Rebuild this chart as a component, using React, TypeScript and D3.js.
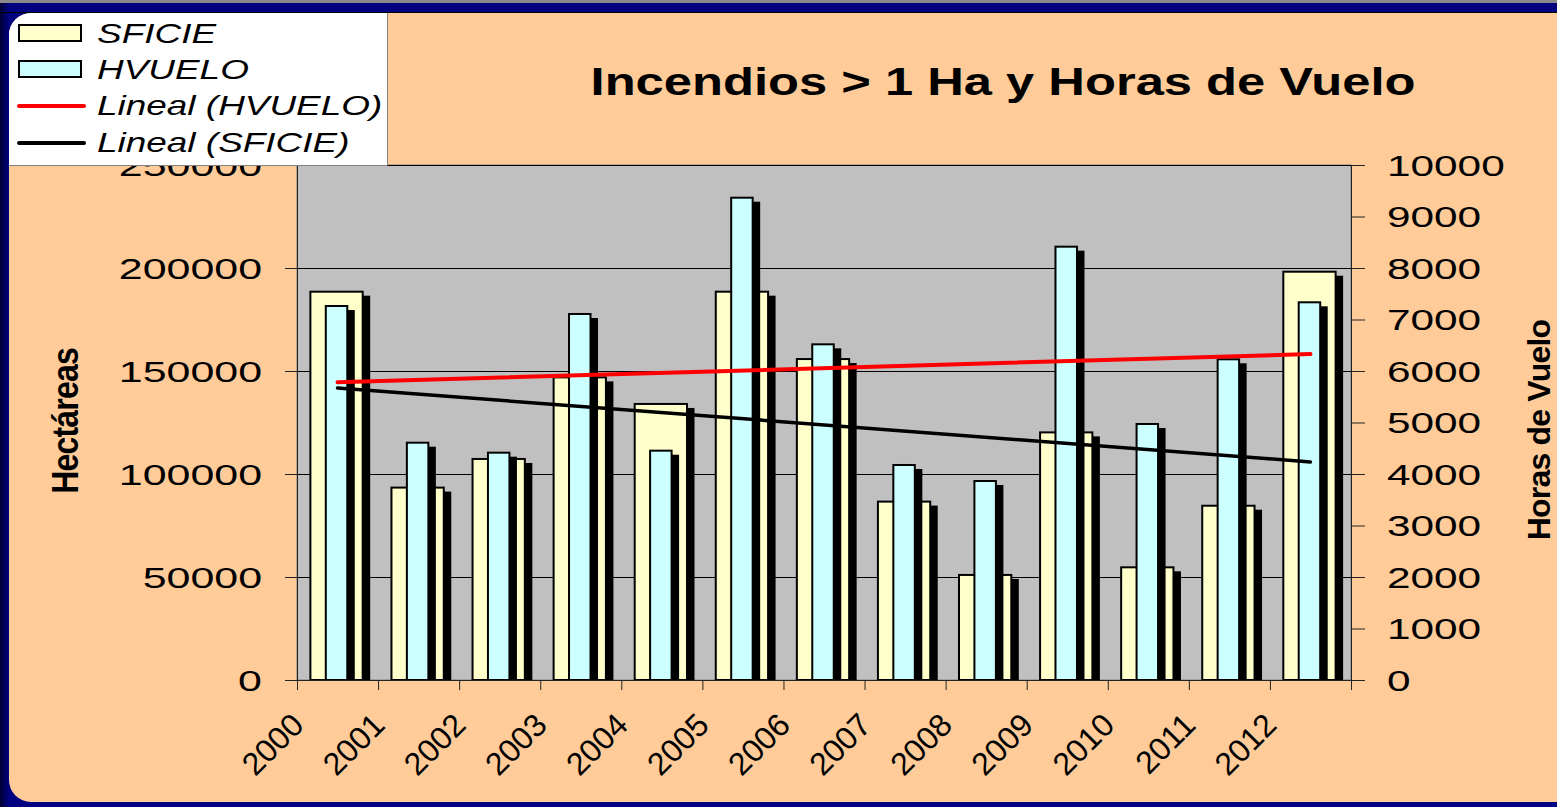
import React, { useEffect, useRef } from 'react';
import * as d3 from 'd3';

const years = ['2000', '2001', '2002', '2003', '2004', '2005', '2006', '2007', '2008', '2009', '2010', '2011', '2012'];
const sficie = [188500, 93400, 107300, 146900, 134000, 188500, 155800, 86600, 51000, 120200, 54700, 84600, 198200];
const hvuelo = [7262, 4608, 4414, 7107, 4453, 9365, 6518, 4175, 3864, 8414, 4971, 6227, 7334];
const leftTicks = [0, 50000, 100000, 150000, 200000, 250000];
const rightTicks = [0, 1000, 2000, 3000, 4000, 5000, 6000, 7000, 8000, 9000, 10000];
const legendLabels = ['SFICIE', 'HVUELO', 'Lineal (HVUELO)', 'Lineal (SFICIE)'];

const W = 1557;
const H = 807;
const FONT = 'Arial, "Liberation Sans", sans-serif';

// least squares fit over the category index
const linReg = (vals: number[]) => {
  const n = vals.length;
  const mx = (n - 1) / 2;
  const my = d3.mean(vals) as number;
  let sxy = 0, sxx = 0;
  vals.forEach((v, i) => { sxy += (i - mx) * (v - my); sxx += (i - mx) * (i - mx); });
  const b = sxy / sxx;
  return (i: number) => my + b * (i - mx);
};

const App: React.FC = () => {
  const svgRef = useRef<SVGSVGElement>(null);

  useEffect(() => {
    if (!svgRef.current) return;
    const svg = d3.select(svgRef.current);
    svg.selectAll('*').remove();

    const plot = { left: 297, right: 1351, top: 165, bottom: 680 };

    const x = d3.scaleBand<string>().domain(years).range([plot.left, plot.right]);
    const xi = d3.scaleLinear().domain([0, years.length]).range([plot.left, plot.right]);
    const yL = d3.scaleLinear().domain([0, 250000]).range([plot.bottom, plot.top]);
    const yR = d3.scaleLinear().domain([0, 10000]).range([plot.bottom, plot.top]);

    const defs = svg.append('defs');
    const grad = defs.append('linearGradient').attr('id', 'edge').attr('x1', 0).attr('x2', 1).attr('y1', 0).attr('y2', 0);
    grad.append('stop').attr('offset', 0).attr('stop-color', '#000033');
    grad.append('stop').attr('offset', 1).attr('stop-color', '#000088');
    defs.append('clipPath').attr('id', 'panel')
      .append('rect').attr('x', 9).attr('y', 13).attr('width', 1600).attr('height', 789).attr('rx', 22);

    // background frame
    svg.append('rect').attr('width', W).attr('height', H).attr('fill', '#000080');
    svg.append('rect').attr('width', 10).attr('height', H).attr('fill', 'url(#edge)');
    svg.append('rect').attr('width', W).attr('height', 3).attr('fill', '#8a8a8a');
    svg.append('line').attr('x1', 0).attr('x2', W).attr('y1', 12.5).attr('y2', 12.5).attr('stroke', '#000').attr('stroke-width', 1);
    svg.append('rect').attr('x', 9).attr('y', 13).attr('width', 1600).attr('height', 789).attr('rx', 22)
      .attr('fill', '#FFCC99');

    // plot area
    svg.append('rect')
      .attr('x', plot.left).attr('y', plot.top)
      .attr('width', plot.right - plot.left).attr('height', plot.bottom - plot.top)
      .attr('fill', '#C0C0C0').attr('stroke', '#808080');

    svg.append('g').selectAll('line').data(leftTicks.slice(1)).enter().append('line')
      .attr('x1', plot.left).attr('x2', plot.right)
      .attr('y1', d => Math.round(yL(d)) + 0.5).attr('y2', d => Math.round(yL(d)) + 0.5)
      .attr('stroke', '#000').attr('stroke-width', 1);

    // bars: yellow behind, cyan in front, each with a black drop shadow
    const bw1 = x.bandwidth() * 0.645;
    const bw2 = x.bandwidth() * 0.265;
    const sx = 7.5, sy = 4;
    const bars = svg.append('g').selectAll('g').data(years).enter().append('g');
    const cx = (d: string) => (x(d) as number) + x.bandwidth() / 2 - 1;

    bars.append('rect')
      .attr('x', d => cx(d) - bw1 / 2 + sx)
      .attr('y', (d, i) => yL(sficie[i]) + sy)
      .attr('width', bw1)
      .attr('height', (d, i) => plot.bottom - yL(sficie[i]) - sy)
      .attr('fill', '#000');
    bars.append('rect')
      .attr('x', d => cx(d) - bw1 / 2)
      .attr('y', (d, i) => yL(sficie[i]))
      .attr('width', bw1)
      .attr('height', (d, i) => plot.bottom - yL(sficie[i]))
      .attr('fill', '#FFFFCC').attr('stroke', '#000').attr('stroke-width', 2);
    bars.append('rect')
      .attr('x', d => cx(d) - bw2 / 2 + sx)
      .attr('y', (d, i) => yR(hvuelo[i]) + sy)
      .attr('width', bw2)
      .attr('height', (d, i) => plot.bottom - yR(hvuelo[i]) - sy)
      .attr('fill', '#000');
    bars.append('rect')
      .attr('x', d => cx(d) - bw2 / 2)
      .attr('y', (d, i) => yR(hvuelo[i]))
      .attr('width', bw2)
      .attr('height', (d, i) => plot.bottom - yR(hvuelo[i]))
      .attr('fill', '#CCFFFF').attr('stroke', '#000').attr('stroke-width', 2);

    // trend lines
    const fitS = linReg(sficie);
    const fitH = linReg(hvuelo);
    const last = years.length - 1;
    const mid = (i: number) => (x(years[i]) as number) + x.bandwidth() / 2;
    svg.append('line')
      .attr('x1', mid(0)).attr('x2', mid(last))
      .attr('y1', yL(fitS(0))).attr('y2', yL(fitS(last)))
      .attr('stroke', '#000').attr('stroke-width', 3.5).attr('stroke-linecap', 'round');
    svg.append('line')
      .attr('x1', mid(0)).attr('x2', mid(last))
      .attr('y1', yR(fitH(0))).attr('y2', yR(fitH(last)))
      .attr('stroke', '#FF0000').attr('stroke-width', 4).attr('stroke-linecap', 'round');

    // axes
    const styleAxis = (g: d3.Selection<SVGGElement, unknown, null, undefined>) => {
      g.select('.domain').attr('stroke', '#222');
      g.selectAll('.tick line').attr('stroke', '#222');
      g.selectAll('.tick text')
        .attr('fill', '#000').style('font-family', FONT).style('font-size', '29px');
    };

    const gl = svg.append('g').attr('transform', `translate(${plot.left},0)`)
      .call(d3.axisLeft(yL).tickValues(leftTicks).tickSize(12).tickSizeOuter(0).tickFormat(d3.format('d')) as any);
    styleAxis(gl);
    gl.selectAll('.tick text').attr('x', 0).attr('dy', '0.36em')
      .attr('text-anchor', 'end').attr('transform', 'translate(-35,0) scale(1.48,1)');

    const gr = svg.append('g').attr('transform', `translate(${plot.right},0)`)
      .call(d3.axisRight(yR).tickValues(rightTicks).tickSize(14).tickSizeOuter(0).tickFormat(d3.format('d')) as any);
    styleAxis(gr);
    gr.selectAll('.tick text').attr('x', 0).attr('dy', '0.36em')
      .attr('text-anchor', 'start').attr('transform', 'translate(36,0) scale(1.46,1)');

    const gb = svg.append('g').attr('transform', `translate(0,${plot.bottom})`)
      .call(d3.axisBottom(xi).tickValues(d3.range(years.length + 1)).tickSize(10).tickSizeOuter(0)
        .tickFormat((i: any) => years[i] ?? '') as any);
    styleAxis(gb);
    gb.selectAll('.tick text').attr('x', 0).attr('y', 0).attr('dy', 0)
      .attr('text-anchor', 'end').style('font-size', '32px')
      .attr('transform', 'translate(8,47) rotate(-45)');

    // legend
    const lg = svg.append('g').attr('clip-path', 'url(#panel)');
    lg.append('rect').attr('x', 0).attr('y', 13).attr('width', 387).attr('height', 152).attr('fill', '#fff');
    lg.append('path').attr('d', 'M387.5,13V165.5H0').attr('fill', 'none').attr('stroke', '#808080');
    const baselines = [43, 79, 115, 152];
    legendLabels.forEach((label, i) => {
      if (i < 2) {
        lg.append('rect').attr('x', 19).attr('y', baselines[i] - 18).attr('width', 62).attr('height', 16)
          .attr('fill', i === 0 ? '#FFFFCC' : '#CCFFFF').attr('stroke', '#000').attr('stroke-width', 2);
      } else {
        lg.append('line').attr('x1', 19).attr('x2', 84)
          .attr('y1', baselines[i] - 9).attr('y2', baselines[i] - 9)
          .attr('stroke', i === 2 ? '#FF0000' : '#000').attr('stroke-width', 4).attr('stroke-linecap', 'round');
      }
      lg.append('text').attr('transform', `translate(97,${baselines[i]}) scale(1.32,1)`)
        .style('font-family', FONT).style('font-size', '28px').style('font-style', 'italic')
        .text(label);
    });

    // titles
    svg.append('text').attr('transform', 'translate(1003,95) scale(1.3,1)')
      .attr('text-anchor', 'middle')
      .style('font-family', FONT).style('font-size', '39px').style('font-weight', 'bold')
      .text('Incendios > 1 Ha y Horas de Vuelo');

    svg.append('text').attr('transform', 'translate(65,421) scale(1.15,1) rotate(-90)')
      .attr('text-anchor', 'middle').attr('dy', '0.36em')
      .style('font-family', FONT).style('font-size', '32px').style('font-weight', 'bold')
      .style('letter-spacing', '-0.8px')
      .text('Hectáreas');

    svg.append('text').attr('transform', 'translate(1538,430) rotate(-90)')
      .attr('text-anchor', 'middle').attr('dy', '0.36em')
      .style('font-family', FONT).style('font-size', '32px').style('font-weight', 'bold')
      .style('letter-spacing', '-0.8px')
      .text('Horas de Vuelo');
  }, []);

  return (
    <svg
      ref={svgRef}
      width={W}
      height={H}
      style={{ position: 'absolute', left: 0, top: 0, display: 'block' }}
    />
  );
};

export default App;
